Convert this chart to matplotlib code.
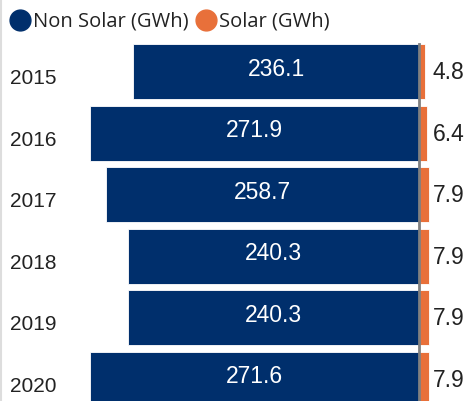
import matplotlib.pyplot as plt
from matplotlib.lines import Line2D

years = ["2015", "2016", "2017", "2018", "2019", "2020"]
non_solar = [236.1, 271.9, 258.7, 240.3, 240.3, 271.6]
solar = [4.8, 6.4, 7.9, 7.9, 7.9, 7.9]

navy = "#002F6C"
orange = "#E8703A"
txt = "#222222"

W, H = 471, 402
fig = plt.figure(figsize=(W / 100, H / 100), dpi=100)
ax = fig.add_axes([60 / W, 0, 1 - 60 / W, 360 / H])

pos = list(range(len(years)))
bh = 0.89
ax.barh(pos, [-v for v in non_solar], height=bh, color=navy, edgecolor="white", linewidth=0.6)
ax.barh(pos, solar, height=bh, color=orange, edgecolor="white", linewidth=0.6)
ax.plot([0, 0], [-bh / 2, 5.6], color="#808080", lw=2)

for p, v in zip(pos, non_solar):
    ax.text(-v / 2, p - 0.06, f"{v:.1f}", color="white", ha="center", va="center",
            fontsize=16.5, family="Liberation Sans")
for p, v in zip(pos, solar):
    ax.text(11.5, p, f"{v:.1f}", color=txt, ha="left", va="center",
            fontsize=16.5, family="Liberation Sans")
for p, y in zip(pos, years):
    ax.text(-359 / 1.21 - 50 / 1.21, p + 0.1, y, color=txt, ha="left", va="center",
            fontsize=15, family="Liberation Sans", clip_on=False)

ax.set_xlim(-359 / 1.21, 52 / 1.21)
ax.set_ylim(5.354, -0.5)
ax.set_xticks([])
ax.set_yticks([])
for s in ax.spines.values():
    s.set_visible(False)

# light border at the left edge
fig.add_artist(Line2D([1 / W, 1 / W], [0, 1], color="#dddddd", lw=1.5))

# legend
leg_items = [(20, navy, 33, "Non Solar (GWh)"), (206, orange, 219, "Solar (GWh)")]
for mx, col, tx, label in leg_items:
    fig.add_artist(Line2D([mx / W], [1 - 21 / H], marker="o", ms=15, color=col, ls=""))
    fig.text(tx / W, 1 - 21 / H, label, ha="left", va="center", color=txt,
             family="Open Sans", fontsize=14.5)

fig.savefig("out.png", dpi=100)
